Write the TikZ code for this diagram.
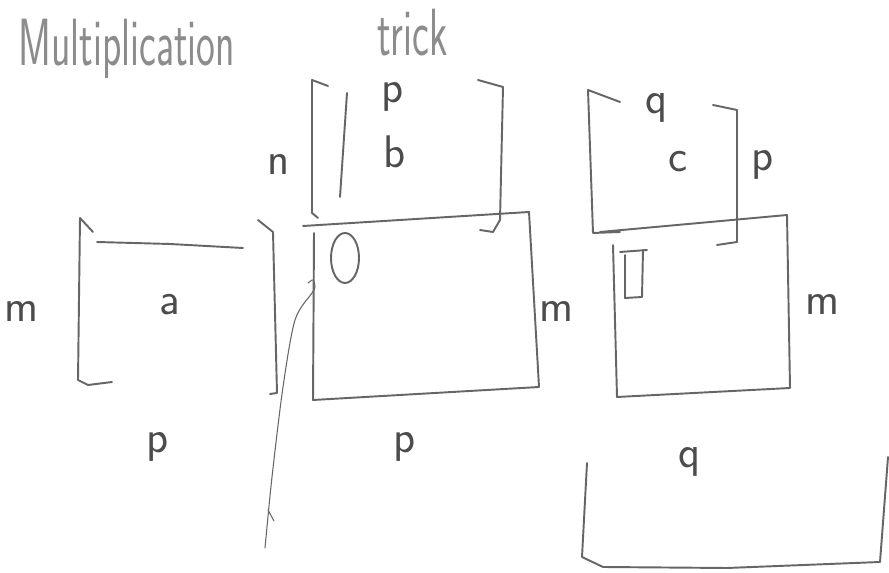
\documentclass[tikz,border=0pt]{standalone}
\usetikzlibrary{calc}

\begin{document}
\begin{tikzpicture}[x=0.02cm, y=-0.02cm, line cap=round, line join=round,
    pencil/.style={draw=black!60, line width=1.1pt},
    lbl/.style={text=black!70, font=\sffamily\fontsize{26}{30}\selectfont, inner sep=0pt},
    title/.style={text=black!45, font=\sffamily\fontsize{38}{42}\selectfont, inner sep=0pt}]
    \fill[white] (0, 0) rectangle (889, 573);
    \useasboundingbox (0, 0) rectangle (889, 573);

    % title
    \node[title, anchor=base west] (mult) at (18, 66) {\scalebox{.6}[1]{Multiplication}};
    \node[title, anchor=base west] (trick) at (377, 56) {\scalebox{.6}[1]{trick}};

    % matrix a
    \draw[pencil] (93, 232) -- (80, 218) -- (78, 380) -- (88, 385) -- (112, 382);
    \draw[pencil] (97, 242) -- (170, 244) -- (243, 248);
    \draw[pencil] (258, 220) -- (273, 232) -- (277, 393) -- (270, 394);
    \node[lbl] (a) at (170, 305) {a};
    \node[lbl] (am) at (22, 312) {m};
    \node[lbl] (ap) at (158, 447) {p};

    % matrix b
    \draw[pencil] (328, 86) -- (312, 80) -- (312, 213) -- (318, 218);
    \draw[pencil] (347, 93) -- (340, 197);
    \draw[pencil] (478, 80) -- (503, 87) -- (500, 220) -- (493, 232) -- (480, 230);
    \node[lbl] (b) at (395, 152) {b};
    \node[lbl] (bn) at (279, 165) {n};
    \node[lbl] (bp) at (393, 97) {p};

    % product a b
    \draw[pencil] (303, 226) -- (529, 212) -- (539, 387) -- (313, 400) -- (314, 233);
    \draw[pencil] (345, 258) ellipse [x radius=14, y radius=25];
    \node[lbl] (abm) at (557, 312) {m};
    \node[lbl] (abp) at (405, 447) {p};
    \coordinate (tail) at (265, 548);
    \draw[pencil, line width=.6pt] plot[smooth] coordinates {(308, 283) (313, 280) (315, 287) (312, 293) (295, 320) (283, 387) (272, 477) (tail)};
    \draw[pencil, line width=.6pt] (268, 510) -- (274, 521);

    % matrix c
    \draw[pencil] (620, 102) -- (588, 90) -- (593, 233) -- (620, 232);
    \draw[pencil] (713, 105) -- (737, 110) -- (737, 242) -- (717, 245);
    \node[lbl] (c) at (678, 162) {c};
    \node[lbl] (cq) at (657, 108) {q};
    \node[lbl] (cp) at (763, 165) {p};

    % product a b c
    \draw[pencil] (600, 232) -- (787, 215) -- (790, 388) -- (617, 397) -- (613, 245);
    \draw[pencil] (620, 252) -- (647, 250);
    \draw[pencil] (625, 255) -- (625, 298) -- (642, 297) -- (643, 250);
    \node[lbl] (abcm) at (823, 305) {m};
    \node[lbl] (abcq) at (690, 462) {q};
    \draw[pencil] (587, 463) -- (582, 557) -- (603, 567) -- (727, 568) -- (880, 562) -- (888, 457);
  \end{tikzpicture}
\end{document}
